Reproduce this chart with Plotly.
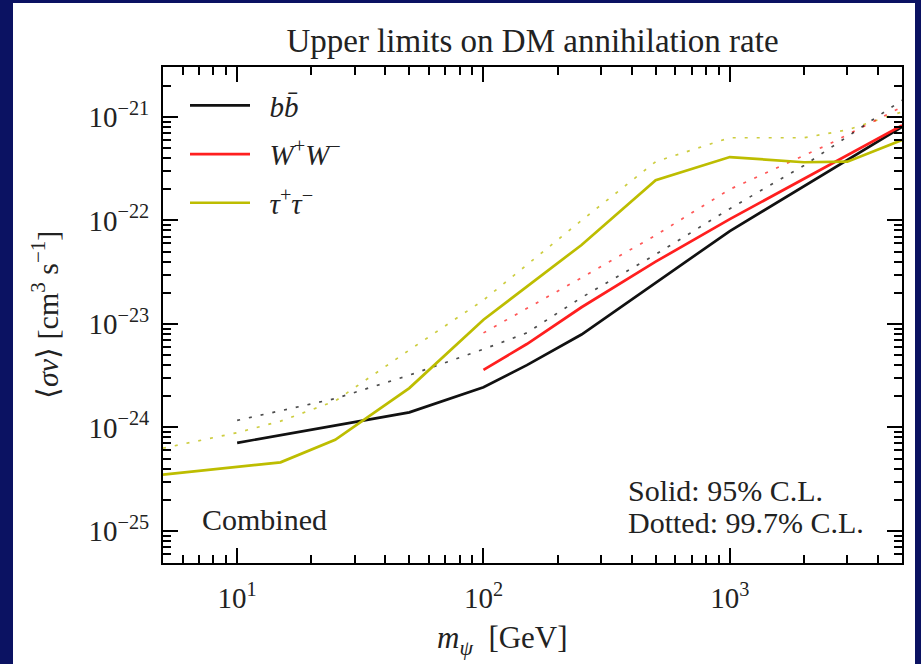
import numpy as np
import plotly.graph_objects as go

# ---------------- data ----------------
bb_x = [10, 50, 100, 150, 250, 500, 1000, 5000]
bb_y = [7.1e-25, 1.4e-24, 2.45e-24, 4.0e-24, 7.9e-24, 2.5e-23, 7.9e-23, 8.0e-22]

ww_x = [100, 150, 250, 500, 1000, 5000]
ww_y = [3.6e-24, 6.4e-24, 1.45e-23, 4.0e-23, 1.03e-22, 8.3e-22]

tt_x = [5, 15, 25, 50, 100, 250, 500, 1000, 2000, 3000, 5000]
tt_y = [3.5e-25, 4.6e-25, 7.6e-25, 2.4e-24, 1.1e-23, 5.8e-23, 2.45e-22, 4.1e-22, 3.65e-22, 3.7e-22, 6.0e-22]

bb_dot_x = [10, 25, 50, 100, 150, 250, 500, 1000, 2000, 5000]
bb_dot_y = [1.17e-24, 1.9e-24, 3.2e-24, 5.7e-24, 8.2e-24, 1.8e-23, 4.7e-23, 1.3e-22, 3.4e-22, 1.45e-21]

ww_dot_x = [100, 150, 250, 500, 1000, 2500, 5000]
ww_dot_y = [8.2e-24, 1.4e-23, 2.8e-23, 7.2e-23, 2.0e-22, 5.4e-22, 1.25e-21]

tt_dot_x = [5, 10, 15, 25, 50, 100, 250, 500, 1000, 2000, 3000, 5000]
tt_dot_y = [6.3e-25, 8.9e-25, 1.15e-24, 1.8e-24, 5.6e-24, 1.7e-23, 1.0e-22, 3.7e-22, 6.3e-22, 6.3e-22, 7.5e-22, 1.12e-21]

x_tick_vals = [10, 100, 1000]
x_tick_text = ["10<sup>1</sup>", "10<sup>2</sup>", "10<sup>3</sup>"]
y_tick_vals = [1e-25, 1e-24, 1e-23, 1e-22, 1e-21]
y_tick_text = ["10<sup>\u221225</sup>", "10<sup>\u221224</sup>", "10<sup>\u221223</sup>",
               "10<sup>\u221222</sup>", "10<sup>\u221221</sup>"]

legend_names = ["\u2002<i>b</i><i>b\u0304</i>",
                "\u2002<i>W</i><sup>+</sup><i>W</i><sup>\u2212</sup>",
                "\u2002<i>\u03c4</i><sup>+</sup><i>\u03c4</i><sup>\u2212</sup>"]

# ---------------- style ----------------
BLACK = "#111111"
RED = "#ff1f1f"
YEL = "#bdbd00"
NAVY = "#0b1262"
FONT = "Liberation Serif"

W, H = 921, 664
L, R, T, B = 163, 902, 67, 563  # plot area in px
pw, ph = R - L, B - T


def px_x(p):
    return (p - L) / pw


def px_y(p):
    return (B - p) / ph


fig = go.Figure()

dot_dash = "3px,9px"
for xs, ys, c in [(tt_dot_x, tt_dot_y, YEL), (ww_dot_x, ww_dot_y, RED), (bb_dot_x, bb_dot_y, BLACK)]:
    fig.add_trace(go.Scatter(x=xs, y=ys, mode="lines", showlegend=False,
                             line=dict(color=c, width=1.7, dash=dot_dash), opacity=0.75))

for i, (xs, ys, c, nm) in enumerate([(bb_x, bb_y, BLACK, legend_names[0]),
                                     (ww_x, ww_y, RED, legend_names[1]),
                                     (tt_x, tt_y, YEL, legend_names[2])]):
    fig.add_trace(go.Scatter(x=xs, y=ys, mode="lines", name=nm, legendgroup=f"g{i}",
                             line=dict(color=c, width=2.7)))

x_minor = [m * 10 ** e for e in range(0, 4) for m in range(2, 10)]
x_minor = [v for v in x_minor if 5 <= v <= 5000]
y_minor = [m * 10.0 ** e for e in range(-26, -20) for m in range(2, 10)]
y_minor = [v for v in y_minor if 4.9e-26 <= v <= 3.04e-21]

axis_common = dict(type="log", showgrid=False, zeroline=False, showline=True,
                   linecolor="black", linewidth=2, mirror="ticks",
                   ticks="inside", ticklen=15, tickwidth=2, tickcolor="black",
                   tickfont=dict(family=FONT, size=29, color="#222"))

fig.update_xaxes(**axis_common, range=[np.log10(5), np.log10(5000)],
                 tickmode="array", tickvals=x_tick_vals, ticktext=x_tick_text,
                 ticklabelstandoff=8,
                 minor=dict(ticks="inside", ticklen=8, tickwidth=1.6, tickcolor="black",
                            tickmode="array", tickvals=x_minor))
fig.update_yaxes(**axis_common, range=[np.log10(4.9e-26), np.log10(3.04e-21)],
                 tickmode="array", tickvals=y_tick_vals, ticktext=y_tick_text,
                 ticklabelstandoff=6,
                 minor=dict(ticks="inside", ticklen=8, tickwidth=1.6, tickcolor="black",
                            tickmode="array", tickvals=y_minor))

annotations = [
    dict(text="Combined", x=px_x(200), y=px_y(519), xanchor="left", yanchor="middle",
         font=dict(size=30)),
    dict(text="Solid: 95% C.L.", x=px_x(626), y=px_y(490), xanchor="left", yanchor="middle",
         font=dict(size=30)),
    dict(text="Dotted: 99.7% C.L.", x=px_x(626), y=px_y(522), xanchor="left", yanchor="middle",
         font=dict(size=30)),
    dict(text="\u27e8<i>\u03c3v</i>\u27e9 [cm<sup>3</sup> s<sup>\u22121</sup>]", x=px_x(45), y=px_y(315),
         xanchor="center", yanchor="middle", textangle=-90, font=dict(size=30)),
    dict(text="<i>m</i><sub><i>\u03c8</i></sub>  [GeV]", x=px_x(502), y=px_y(640),
         xanchor="center", yanchor="middle", font=dict(size=31)),
]
for a in annotations:
    a.update(xref="paper", yref="paper", showarrow=False)
    a["font"].update(family=FONT, color="#222")

fig.update_layout(
    width=W, height=H,
    margin=dict(l=L, r=W - R, t=T, b=H - B, autoexpand=False),
    paper_bgcolor=NAVY, plot_bgcolor="white",
    title=dict(text="Upper limits on DM annihilation rate", x=0.5, xref="paper",
               y=1 - 40 / H, yref="container", xanchor="center", yanchor="middle",
               font=dict(family=FONT, size=33, color="#222")),
    legend=dict(x=px_x(185), y=px_y(80), xanchor="left", yanchor="top",
                bgcolor="rgba(0,0,0,0)", itemwidth=60, tracegroupgap=8,
                traceorder="grouped",
                font=dict(family=FONT, size=29, color="#222")),
    shapes=[dict(type="rect", xref="paper", yref="paper", layer="below",
                 x0=px_x(13), x1=px_x(915), y0=px_y(664), y1=px_y(3),
                 fillcolor="white", line=dict(width=0))],
    annotations=annotations,
)

fig.write_html("out.html")
